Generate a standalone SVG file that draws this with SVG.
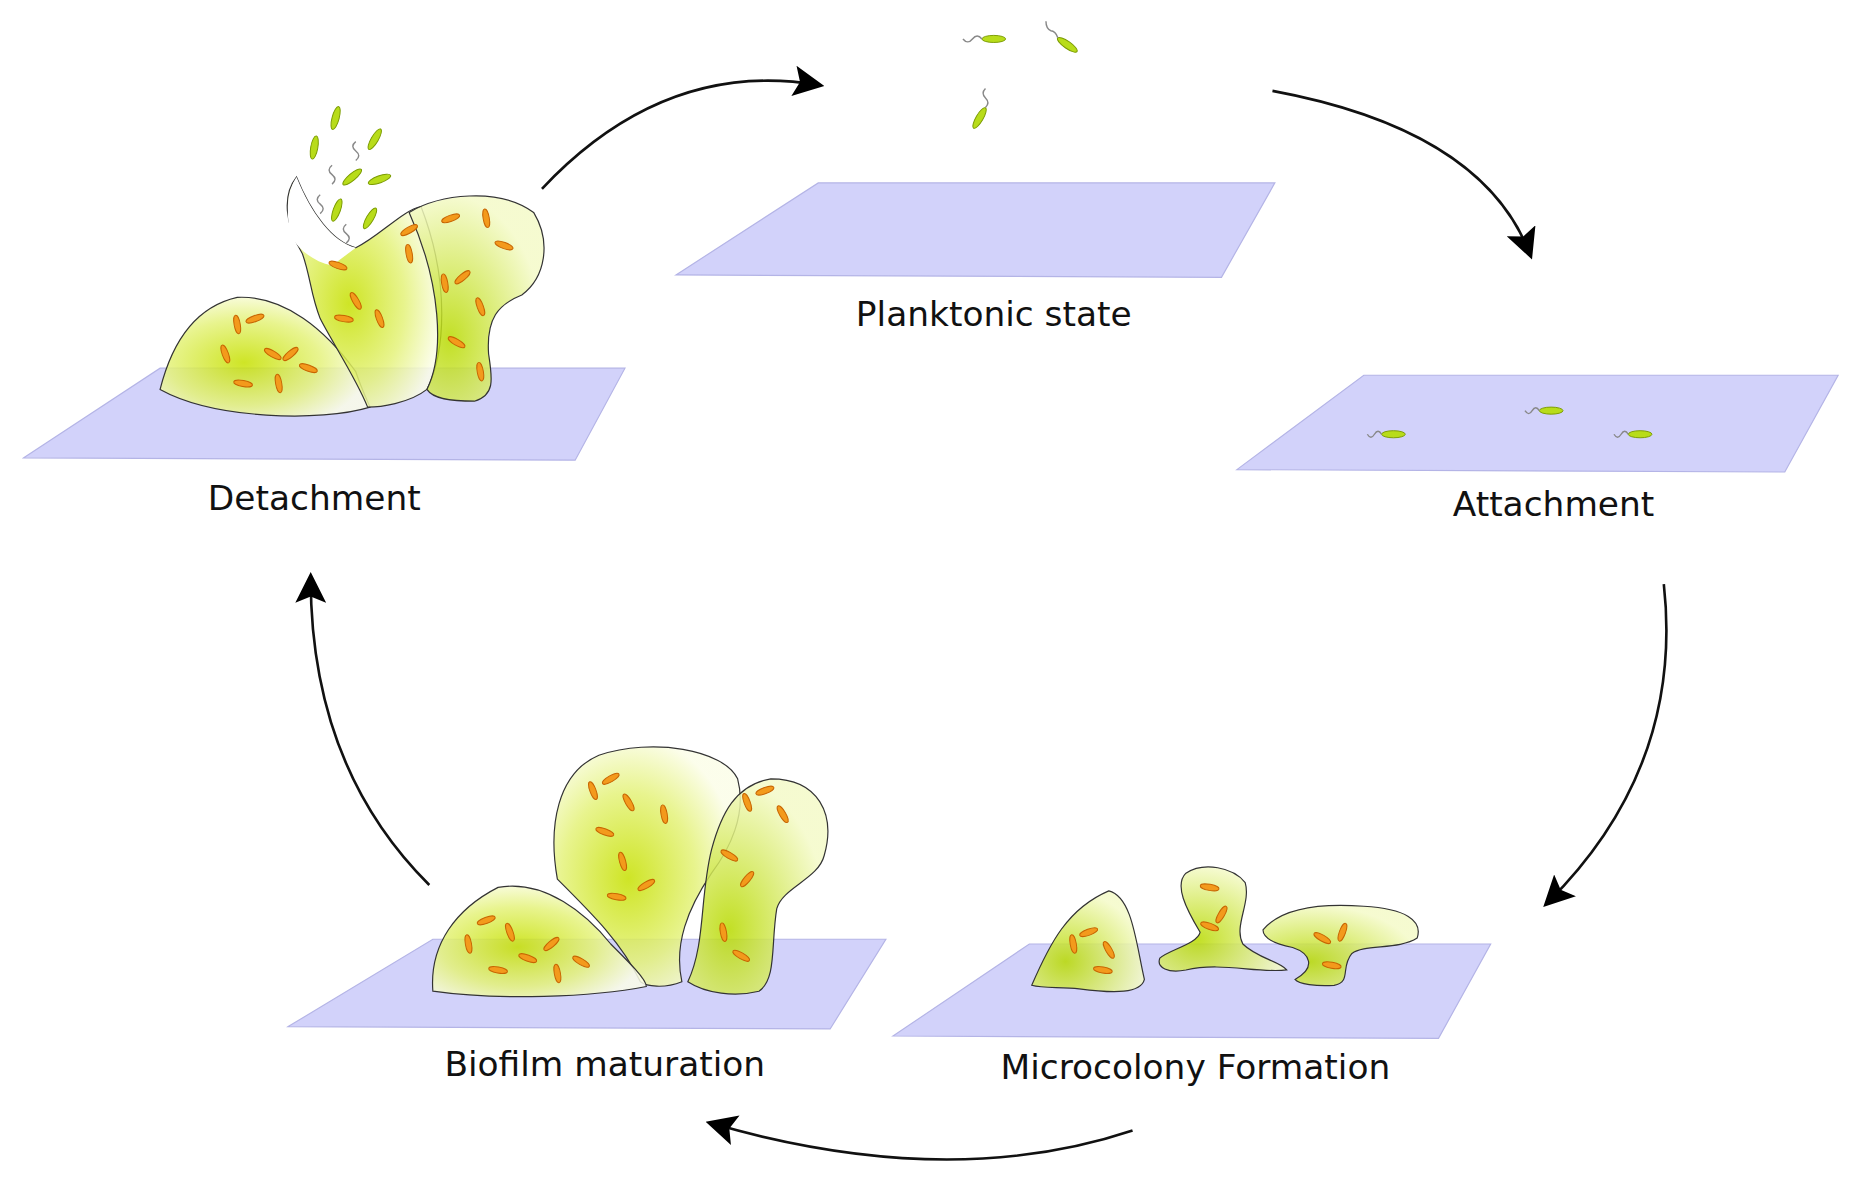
<svg xmlns="http://www.w3.org/2000/svg" xmlns:xlink="http://www.w3.org/1999/xlink" width="1850" height="1180" viewBox="0 0 1850 1180">
<style>
.plane{fill:#d2d2fa;stroke:#b4b4e6;stroke-width:1}
.lbl{font-family:"DejaVu Sans",sans-serif;font-size:29px;fill:#111;text-anchor:middle}
.blob{fill:url(#gg);fill-opacity:0.85;stroke:#333;stroke-width:1}
.blob2{fill:url(#gg2);fill-opacity:0.85;stroke:#333;stroke-width:1}
.arr{fill:none;stroke:#111;stroke-width:2.2;marker-end:url(#ah)}
.fl{fill:none;stroke:#888;stroke-width:1.2}
</style>
<defs>
<radialGradient id="gg" cx="0.4" cy="0.55" r="0.6"><stop offset="0" stop-color="#c6e000"/><stop offset="0.6" stop-color="#e4f27a"/><stop offset="1" stop-color="#fbfde8"/></radialGradient>
<radialGradient id="gg2" cx="0.3" cy="0.7" r="0.7"><stop offset="0" stop-color="#b8da00"/><stop offset="1" stop-color="#f4fac8"/></radialGradient>
<marker id="ah" markerWidth="26" markerHeight="26" refX="8" refY="5" orient="auto" markerUnits="userSpaceOnUse" viewBox="0 0 10 10"><path d="M0,0 L10,5 L0,10 L2,5 z" fill="#000"/></marker>
<ellipse id="b" rx="8" ry="2.6" fill="#f39a1c" stroke="#c86400" stroke-width="0.8"/>
<ellipse id="g" rx="10" ry="3" fill="#b8dc1a" stroke="#7a9a00" stroke-width="0.8"/>
</defs>
<g transform="scale(1.1859 1.18)">
<g id="connectors">
<path class="arr" d="M457,160 Q560,50 690,72"/>
<path class="arr" d="M1073,77 Q1250,110 1290,215"/>
<path class="arr" d="M1403,495 Q1420,650 1305,765"/>
<path class="arr" d="M955,958 Q800,1010 600,952"/>
<path class="arr" d="M362,750 Q262,650 262,490"/>
</g>
<g id="planktonic">
<path class="plane" d="M570,233 L690,155 L1075,155 L1030,235 Z"/>
<use href="#g" transform="translate(838,33) rotate(0)"/><path class="fl" d="M828,33 q-4,-5 -8,0 q-4,5 -8,0"/>
<use href="#g" transform="translate(900,38) rotate(35)"/><path class="fl" d="M892,32 q-2,-6 -6,-6 q-4,-2 -4,-8"/>
<use href="#g" transform="translate(826,100) rotate(-60)"/><path class="fl" d="M831,91 q4,-4 0,-8 q-4,-4 0,-8"/>
<text class="lbl" x="838" y="276">Planktonic state</text>
</g>
<g id="attachment">
<path class="plane" d="M1043,398 L1150,318 L1550,318 L1505,400 Z"/>
<use href="#g" transform="translate(1175,368)"/><path class="fl" d="M1165,368 q-3,-5 -6,0 q-3,5 -6,0"/>
<use href="#g" transform="translate(1308,348)"/><path class="fl" d="M1298,348 q-3,-5 -6,0 q-3,5 -6,0"/>
<use href="#g" transform="translate(1383,368)"/><path class="fl" d="M1373,368 q-3,-5 -6,0 q-3,5 -6,0"/>
<text class="lbl" x="1310" y="437">Attachment</text>
</g>
<g id="microcolony">
<path class="plane" d="M753,878 L868,800 L1257,800 L1213,880 Z"/>
<path class="blob2" d="M870,835 C885,800 900,770 935,755 C955,760 958,800 965,830 C962,842 940,842 910,838 C895,836 880,838 870,835 Z"/>
<path class="blob2" d="M978,812 C985,805 1010,800 1012,790 C1000,770 990,750 1000,740 C1015,730 1040,735 1050,748 C1055,765 1040,785 1048,800 C1060,812 1080,815 1085,822 C1060,825 1030,815 1000,822 C985,825 975,820 978,812 Z"/>
<path class="blob2" d="M1065,788 C1080,770 1110,765 1150,768 C1185,770 1200,780 1195,795 C1180,805 1150,800 1140,808 C1130,820 1140,832 1125,835 C1110,836 1095,834 1092,830 C1110,820 1105,808 1090,803 C1075,800 1065,795 1065,788 Z"/>
<use href="#b" transform="translate(905,800) rotate(80)"/><use href="#b" transform="translate(918,790) rotate(-20)"/><use href="#b" transform="translate(935,805) rotate(60)"/><use href="#b" transform="translate(930,822) rotate(10)"/>
<use href="#b" transform="translate(1020,752) rotate(10)"/><use href="#b" transform="translate(1030,775) rotate(-60)"/><use href="#b" transform="translate(1020,785) rotate(20)"/>
<use href="#b" transform="translate(1115,795) rotate(30)"/><use href="#b" transform="translate(1132,790) rotate(-70)"/><use href="#b" transform="translate(1123,818) rotate(10)"/>
<text class="lbl" x="1008" y="914">Microcolony Formation</text>
</g>
<g id="maturation">
<path class="plane" d="M243,870 L365,796 L747,796 L700,872 Z"/>
<path class="blob" d="M470,745 C462,700 470,655 505,640 C550,625 610,635 622,660 C630,690 615,720 600,740 C580,770 568,800 575,832 C560,838 545,836 540,832 C525,800 500,775 470,745 Z"/>
<path class="blob" d="M365,840 C362,800 385,770 420,752 C460,745 495,775 515,800 C530,815 545,830 545,836 C500,845 420,848 365,840 Z"/>
<path class="blob2" d="M580,832 C595,800 590,760 600,720 C608,690 620,665 650,660 C690,660 705,690 695,725 C690,745 660,752 655,770 C650,800 655,830 640,840 C620,845 595,842 580,832 Z"/>
<use href="#b" transform="translate(395,800) rotate(80)"/><use href="#b" transform="translate(410,780) rotate(-20)"/><use href="#b" transform="translate(430,790) rotate(70)"/><use href="#b" transform="translate(445,812) rotate(20)"/><use href="#b" transform="translate(465,800) rotate(-40)"/><use href="#b" transform="translate(470,825) rotate(80)"/><use href="#b" transform="translate(490,815) rotate(30)"/><use href="#b" transform="translate(420,822) rotate(10)"/>
<use href="#b" transform="translate(500,670) rotate(70)"/><use href="#b" transform="translate(515,660) rotate(-30)"/><use href="#b" transform="translate(530,680) rotate(60)"/><use href="#b" transform="translate(510,705) rotate(20)"/><use href="#b" transform="translate(525,730) rotate(75)"/><use href="#b" transform="translate(545,750) rotate(-30)"/><use href="#b" transform="translate(560,690) rotate(80)"/><use href="#b" transform="translate(520,760) rotate(10)"/>
<use href="#b" transform="translate(630,680) rotate(70)"/><use href="#b" transform="translate(645,670) rotate(-20)"/><use href="#b" transform="translate(660,690) rotate(60)"/><use href="#b" transform="translate(615,725) rotate(30)"/><use href="#b" transform="translate(630,745) rotate(-50)"/><use href="#b" transform="translate(610,790) rotate(80)"/><use href="#b" transform="translate(625,810) rotate(30)"/>
<text class="lbl" x="510" y="912">Biofilm maturation</text>
</g>
<g id="detachment">
<path class="plane" d="M20,388 L135,312 L527,312 L485,390 Z"/>
<path class="blob" d="M135,330 C145,290 165,260 200,252 C240,250 275,280 300,315 C305,330 310,340 312,345 C270,358 180,355 135,330 Z"/>
<path d="M255,215 C240,190 238,165 250,150 C262,180 280,205 300,210 C320,200 340,178 355,175 C380,240 375,300 360,330 C345,342 320,345 310,345 C300,320 280,290 270,270 C262,250 262,235 255,215 Z" fill="url(#gg)" fill-opacity="0.85" stroke="#333"/>
<path d="M245,200 C240,175 244,160 250,150 C262,180 280,205 300,210 L280,225 C265,222 252,212 245,200 Z" fill="#fff" stroke="none"/>
<path class="blob2" d="M345,180 C370,165 420,158 450,180 C465,205 460,235 440,250 C420,258 410,270 412,300 C415,320 418,335 400,340 C380,340 365,338 360,330 C375,300 372,240 345,180 Z"/>
<use href="#b" transform="translate(200,275) rotate(80)"/><use href="#b" transform="translate(215,270) rotate(-20)"/><use href="#b" transform="translate(230,300) rotate(30)"/><use href="#b" transform="translate(245,300) rotate(-40)"/><use href="#b" transform="translate(260,312) rotate(20)"/><use href="#b" transform="translate(235,325) rotate(80)"/><use href="#b" transform="translate(205,325) rotate(10)"/><use href="#b" transform="translate(190,300) rotate(70)"/>
<use href="#b" transform="translate(285,225) rotate(20)"/><use href="#b" transform="translate(300,255) rotate(60)"/><use href="#b" transform="translate(290,270) rotate(10)"/><use href="#b" transform="translate(320,270) rotate(70)"/><use href="#b" transform="translate(345,195) rotate(-30)"/><use href="#b" transform="translate(345,215) rotate(80)"/>
<use href="#b" transform="translate(380,185) rotate(-20)"/><use href="#b" transform="translate(410,185) rotate(80)"/><use href="#b" transform="translate(425,208) rotate(20)"/><use href="#b" transform="translate(375,240) rotate(80)"/><use href="#b" transform="translate(390,235) rotate(-40)"/><use href="#b" transform="translate(405,260) rotate(70)"/><use href="#b" transform="translate(385,290) rotate(30)"/><use href="#b" transform="translate(405,315) rotate(80)"/>
<use href="#g" transform="translate(283,100) rotate(-75)"/><use href="#g" transform="translate(316,118) rotate(-60)"/><use href="#g" transform="translate(265,125) rotate(-80)"/><use href="#g" transform="translate(297,150) rotate(-40)"/><use href="#g" transform="translate(320,152) rotate(-20)"/><use href="#g" transform="translate(284,178) rotate(-70)"/><use href="#g" transform="translate(312,185) rotate(-60)"/>
<path class="fl" d="M280,140 q-5,4 0,8 q5,4 0,8"/><path class="fl" d="M270,165 q-5,4 0,8 q5,4 0,8"/><path class="fl" d="M292,190 q-5,4 0,8 q5,4 0,8"/><path class="fl" d="M300,120 q-5,4 0,8 q5,4 0,8"/>
<text class="lbl" x="265" y="432">Detachment</text>
</g>
</g>
</svg>
